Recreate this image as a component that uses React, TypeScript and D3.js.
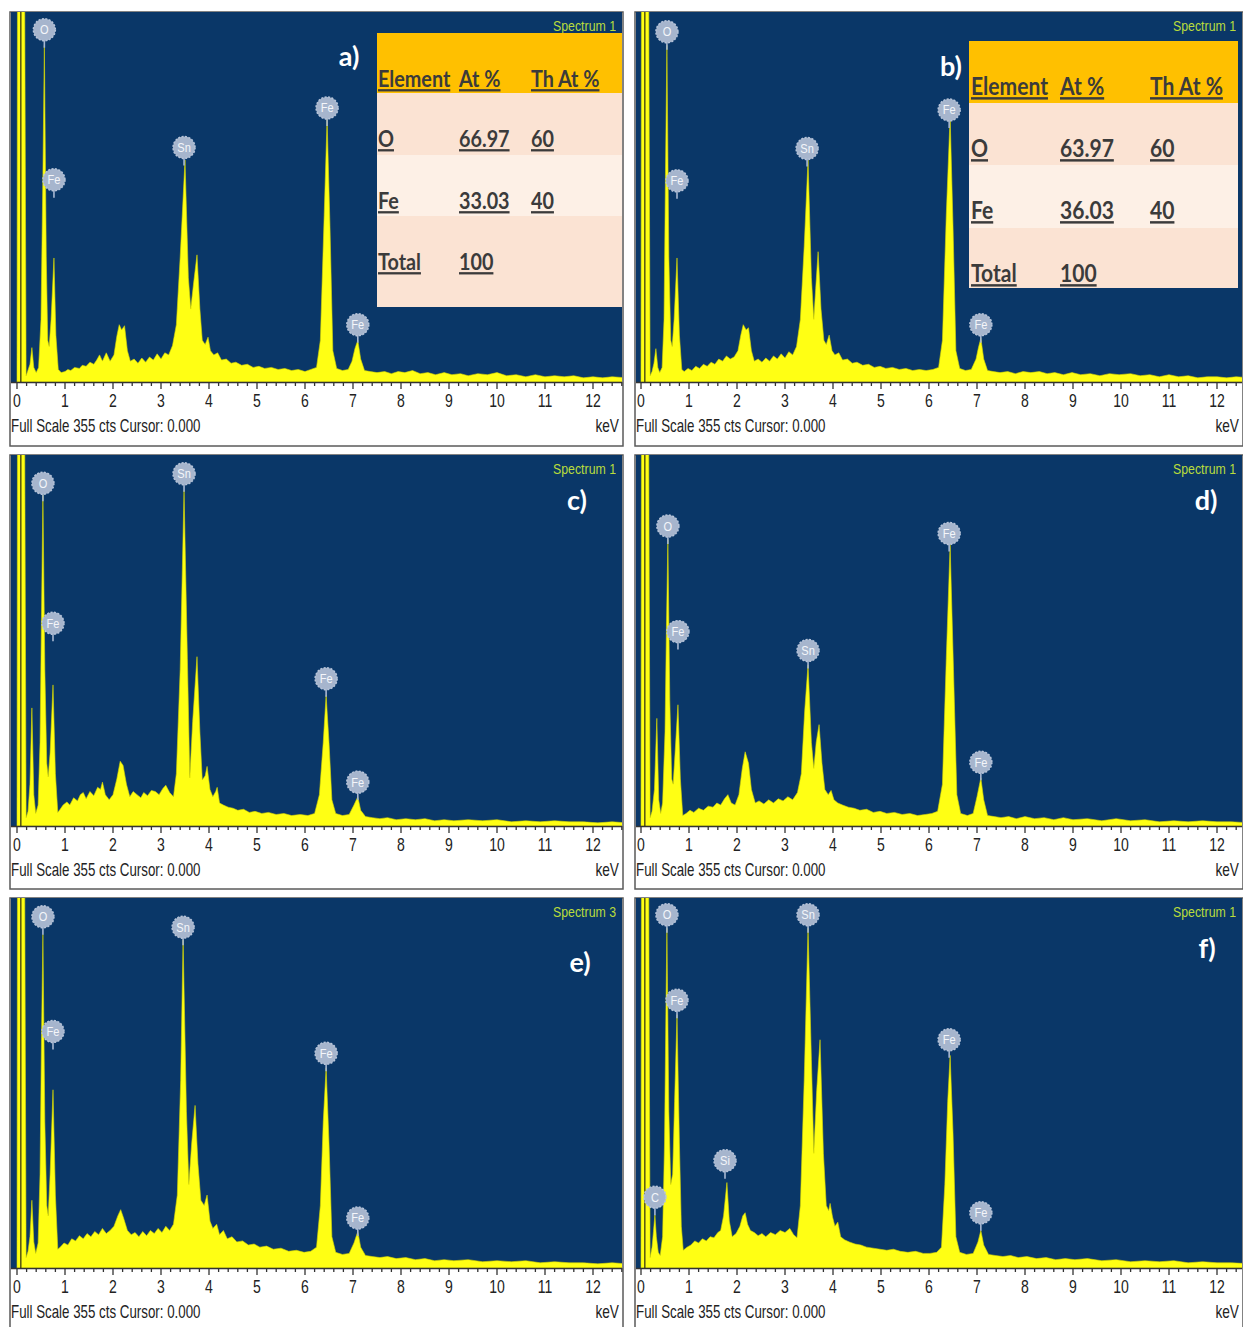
import React from 'react';
import * as d3 from 'd3';

type Pt = [number, number];
type PeakLabel = { el: string; kev: number; counts: number };

const FULL_SCALE = 355; // counts at top of every spectrum window
const MAJOR_TICKS = [0, 1, 2, 3, 4, 5, 6, 7, 8, 9, 10, 11, 12];
const PANEL_TAGS = ['a)', 'b)', 'c)', 'd)', 'e)', 'f)'];
const SPECTRUM_NAMES = ['Spectrum 1', 'Spectrum 1', 'Spectrum 1', 'Spectrum 1', 'Spectrum 3', 'Spectrum 1'];
const STATUS_TEXT = 'Full Scale 355 cts Cursor: 0.000';

// Spectra: [energy keV, counts]
const spectrumA: Pt[] = [
  [0, 0], [0.01, 380], [0.16, 380], [0.19, 6], [0.22, 10], [0.27, 17], [0.31, 33], [0.35, 14], [0.4, 9], [0.45, 14],
  [0.5, 60], [0.54, 200], [0.57, 323], [0.61, 120], [0.64, 40], [0.67, 34], [0.71, 60], [0.77, 119], [0.81, 45], [0.86, 12],
  [0.92, 9], [1.0, 10], [1.06, 12], [1.12, 11], [1.2, 14], [1.3, 13], [1.36, 16], [1.44, 15], [1.52, 19], [1.6, 17],
  [1.66, 21], [1.72, 26], [1.78, 20], [1.86, 28], [1.94, 20], [2.02, 26], [2.08, 44], [2.13, 55], [2.18, 50], [2.24, 54],
  [2.3, 30], [2.36, 20], [2.44, 22], [2.52, 18], [2.6, 23], [2.68, 19], [2.76, 24], [2.84, 21], [2.92, 27], [3.0, 22],
  [3.08, 28], [3.16, 26], [3.24, 35], [3.32, 55], [3.4, 120], [3.5, 213], [3.57, 100], [3.62, 70], [3.68, 95], [3.75, 122],
  [3.81, 70], [3.86, 40], [3.92, 36], [3.98, 43], [4.03, 30], [4.1, 26], [4.18, 28], [4.26, 21], [4.36, 22], [4.46, 18],
  [4.56, 19], [4.68, 16], [4.8, 17], [4.92, 14], [5.04, 15], [5.16, 13], [5.3, 14], [5.44, 12], [5.58, 13], [5.72, 11],
  [5.86, 12], [6.0, 10], [6.12, 12], [6.24, 14], [6.32, 40], [6.4, 160], [6.46, 252], [6.52, 150], [6.58, 30], [6.66, 13],
  [6.78, 11], [6.9, 12], [6.98, 20], [7.04, 32], [7.1, 40], [7.16, 22], [7.24, 11], [7.36, 10], [7.5, 9], [7.66, 10],
  [7.8, 8], [7.94, 10], [8.08, 9], [8.24, 11], [8.4, 8], [8.56, 9], [8.72, 7], [8.9, 9], [9.06, 7], [9.24, 8],
  [9.4, 6], [9.6, 8], [9.8, 7], [10.0, 9], [10.2, 6], [10.4, 7], [10.6, 5], [10.8, 7], [11.0, 5], [11.2, 6],
  [11.4, 5], [11.6, 6], [11.8, 4], [12.0, 5], [12.2, 4], [12.4, 5], [12.7, 4],
];

const spectrumB: Pt[] = [
  [0, 0], [0.01, 380], [0.16, 380], [0.19, 6], [0.23, 10], [0.27, 18], [0.31, 32], [0.35, 14], [0.39, 9], [0.44, 14],
  [0.48, 60], [0.51, 200], [0.54, 323], [0.58, 120], [0.62, 40], [0.65, 34], [0.69, 60], [0.75, 119], [0.8, 45], [0.85, 12],
  [0.9, 10], [0.98, 13], [1.06, 11], [1.14, 15], [1.22, 13], [1.3, 17], [1.38, 15], [1.46, 19], [1.54, 17], [1.62, 22],
  [1.7, 20], [1.78, 25], [1.86, 22], [1.94, 24], [2.02, 30], [2.08, 45], [2.13, 55], [2.19, 50], [2.24, 52], [2.3, 30],
  [2.36, 20], [2.44, 22], [2.52, 19], [2.6, 23], [2.68, 20], [2.76, 25], [2.84, 22], [2.92, 27], [3.0, 23], [3.08, 29],
  [3.16, 26], [3.24, 34], [3.32, 60], [3.4, 130], [3.48, 213], [3.55, 100], [3.6, 60], [3.64, 90], [3.69, 125], [3.75, 70],
  [3.81, 40], [3.86, 36], [3.92, 45], [3.98, 30], [4.04, 26], [4.12, 28], [4.2, 21], [4.3, 22], [4.4, 18], [4.5, 19],
  [4.62, 16], [4.74, 17], [4.86, 14], [4.98, 15], [5.1, 13], [5.24, 14], [5.38, 12], [5.52, 13], [5.66, 11], [5.8, 12],
  [5.94, 11], [6.08, 12], [6.2, 14], [6.28, 40], [6.36, 160], [6.44, 255], [6.5, 150], [6.56, 30], [6.64, 13], [6.76, 11],
  [6.88, 12], [6.98, 22], [7.03, 33], [7.08, 42], [7.14, 22], [7.22, 11], [7.34, 10], [7.48, 9], [7.64, 10], [7.8, 8],
  [7.96, 10], [8.12, 9], [8.3, 10], [8.46, 8], [8.62, 9], [8.8, 7], [8.98, 9], [9.16, 7], [9.36, 8], [9.56, 6],
  [9.76, 8], [9.96, 7], [10.2, 8], [10.4, 6], [10.6, 7], [10.8, 5], [11.0, 7], [11.2, 5], [11.4, 6], [11.6, 4],
  [11.8, 5], [12.0, 5], [12.2, 4], [12.4, 5], [12.7, 4],
];

const spectrumC: Pt[] = [
  [0, 0], [0.01, 380], [0.16, 380], [0.19, 8], [0.23, 14], [0.27, 40], [0.31, 113], [0.35, 30], [0.39, 12], [0.44, 20],
  [0.48, 80], [0.51, 200], [0.54, 317], [0.58, 150], [0.62, 60], [0.65, 47], [0.69, 70], [0.75, 135], [0.8, 50], [0.85, 13],
  [0.9, 16], [0.96, 20], [1.04, 23], [1.1, 20], [1.18, 27], [1.26, 24], [1.32, 30], [1.38, 32], [1.44, 26], [1.52, 33],
  [1.6, 29], [1.68, 37], [1.74, 35], [1.78, 42], [1.84, 30], [1.92, 25], [2.0, 30], [2.08, 45], [2.15, 62], [2.21, 58],
  [2.28, 40], [2.35, 28], [2.42, 33], [2.5, 30], [2.58, 27], [2.64, 32], [2.72, 29], [2.8, 34], [2.88, 33], [2.96, 30],
  [3.04, 36], [3.1, 39], [3.18, 32], [3.26, 28], [3.32, 50], [3.4, 150], [3.48, 321], [3.55, 160], [3.6, 46], [3.66, 100],
  [3.75, 162], [3.81, 90], [3.86, 44], [3.92, 48], [3.96, 57], [4.02, 35], [4.08, 28], [4.14, 33], [4.17, 37], [4.22, 22],
  [4.3, 20], [4.4, 18], [4.5, 17], [4.6, 15], [4.72, 16], [4.84, 13], [4.96, 14], [5.1, 12], [5.24, 13], [5.4, 11],
  [5.56, 12], [5.72, 10], [5.9, 11], [6.06, 10], [6.2, 12], [6.3, 30], [6.38, 80], [6.44, 125], [6.5, 80], [6.56, 25],
  [6.64, 12], [6.78, 10], [6.92, 11], [7.02, 20], [7.1, 28], [7.16, 15], [7.26, 9], [7.4, 8], [7.56, 7], [7.72, 8],
  [7.9, 6], [8.1, 7], [8.3, 6], [8.5, 7], [8.7, 5], [8.9, 6], [9.1, 5], [9.4, 6], [9.7, 5], [10.0, 6],
  [10.3, 4], [10.6, 5], [10.9, 4], [11.2, 5], [11.5, 4], [11.8, 4], [12.1, 3], [12.4, 4], [12.7, 3],
];

const spectrumD: Pt[] = [
  [0, 0], [0.01, 380], [0.16, 380], [0.19, 8], [0.23, 14], [0.28, 35], [0.33, 103], [0.37, 25], [0.41, 12], [0.45, 22],
  [0.5, 90], [0.53, 190], [0.56, 274], [0.6, 120], [0.64, 45], [0.67, 40], [0.71, 70], [0.77, 116], [0.82, 45], [0.87, 10],
  [0.94, 12], [1.02, 15], [1.1, 13], [1.2, 17], [1.3, 15], [1.4, 19], [1.5, 18], [1.58, 22], [1.66, 20], [1.74, 26],
  [1.81, 30], [1.88, 22], [1.96, 20], [2.04, 30], [2.11, 55], [2.17, 71], [2.24, 60], [2.3, 35], [2.38, 22], [2.46, 24],
  [2.56, 21], [2.66, 25], [2.76, 22], [2.86, 26], [2.96, 24], [3.06, 28], [3.16, 25], [3.26, 32], [3.34, 50], [3.41, 110],
  [3.48, 154], [3.55, 80], [3.6, 55], [3.65, 80], [3.71, 97], [3.77, 60], [3.83, 35], [3.9, 30], [3.96, 34], [4.02, 25],
  [4.1, 22], [4.2, 20], [4.32, 18], [4.44, 17], [4.56, 15], [4.7, 16], [4.84, 13], [4.98, 14], [5.12, 12], [5.28, 13],
  [5.44, 11], [5.6, 12], [5.76, 10], [5.92, 11], [6.06, 12], [6.18, 14], [6.28, 40], [6.36, 160], [6.44, 269], [6.51, 150],
  [6.58, 30], [6.66, 12], [6.8, 10], [6.92, 12], [7.0, 28], [7.08, 46], [7.14, 25], [7.22, 10], [7.36, 9], [7.5, 8],
  [7.66, 9], [7.82, 7], [8.0, 9], [8.2, 7], [8.4, 8], [8.6, 6], [8.8, 8], [9.0, 6], [9.3, 7], [9.6, 5],
  [9.9, 7], [10.2, 5], [10.5, 6], [10.8, 4], [11.1, 5], [11.4, 4], [11.7, 5], [12.0, 4], [12.3, 4], [12.7, 3],
];

const spectrumE: Pt[] = [
  [0, 0], [0.01, 380], [0.16, 380], [0.19, 10], [0.23, 16], [0.27, 30], [0.31, 65], [0.35, 25], [0.39, 14], [0.44, 24],
  [0.48, 90], [0.51, 220], [0.54, 320], [0.58, 140], [0.62, 60], [0.65, 50], [0.69, 90], [0.75, 171], [0.8, 70], [0.85, 18],
  [0.9, 20], [0.98, 24], [1.06, 22], [1.14, 28], [1.22, 26], [1.3, 31], [1.38, 28], [1.46, 33], [1.54, 30], [1.62, 35],
  [1.7, 32], [1.78, 38], [1.86, 33], [1.94, 36], [2.02, 40], [2.1, 50], [2.16, 56], [2.22, 48], [2.3, 36], [2.38, 32],
  [2.46, 34], [2.54, 30], [2.62, 35], [2.7, 31], [2.78, 36], [2.86, 33], [2.94, 38], [3.02, 34], [3.1, 40], [3.18, 36],
  [3.26, 42], [3.34, 70], [3.41, 180], [3.46, 315], [3.53, 150], [3.58, 80], [3.64, 120], [3.71, 156], [3.77, 100], [3.83, 65],
  [3.9, 60], [3.96, 70], [4.02, 45], [4.08, 38], [4.16, 42], [4.22, 32], [4.3, 36], [4.38, 28], [4.48, 30], [4.58, 25],
  [4.7, 26], [4.82, 22], [4.94, 23], [5.06, 20], [5.2, 21], [5.34, 18], [5.5, 19], [5.66, 16], [5.82, 17], [5.98, 15],
  [6.12, 16], [6.24, 20], [6.32, 60], [6.38, 140], [6.44, 192], [6.5, 120], [6.56, 30], [6.64, 15], [6.78, 13], [6.92, 14],
  [7.02, 24], [7.1, 35], [7.16, 20], [7.26, 12], [7.4, 11], [7.56, 10], [7.72, 11], [7.9, 9], [8.1, 10], [8.3, 8],
  [8.5, 9], [8.7, 7], [8.9, 8], [9.1, 7], [9.4, 8], [9.7, 6], [10.0, 7], [10.3, 6], [10.6, 7], [10.9, 5],
  [11.2, 6], [11.5, 5], [11.8, 5], [12.1, 4], [12.4, 5], [12.7, 4],
];

const spectrumF: Pt[] = [
  [0, 0], [0.01, 380], [0.16, 380], [0.19, 10], [0.23, 20], [0.26, 35], [0.29, 51], [0.32, 30], [0.36, 15], [0.4, 12],
  [0.45, 30], [0.49, 120], [0.52, 250], [0.54, 326], [0.58, 150], [0.62, 80], [0.66, 90], [0.7, 160], [0.75, 243], [0.8, 120],
  [0.84, 40], [0.88, 17], [0.96, 20], [1.04, 22], [1.12, 26], [1.2, 24], [1.28, 28], [1.36, 26], [1.44, 30], [1.52, 29],
  [1.6, 34], [1.66, 36], [1.72, 50], [1.79, 82], [1.84, 45], [1.9, 30], [1.98, 33], [2.06, 40], [2.12, 50], [2.17, 53],
  [2.22, 42], [2.28, 36], [2.36, 34], [2.44, 31], [2.52, 33], [2.6, 30], [2.7, 34], [2.8, 32], [2.9, 36], [3.0, 34],
  [3.1, 38], [3.18, 32], [3.25, 29], [3.32, 60], [3.4, 180], [3.48, 326], [3.55, 200], [3.6, 110], [3.66, 170], [3.73, 219],
  [3.8, 110], [3.86, 60], [3.91, 55], [3.94, 62], [3.99, 49], [4.04, 40], [4.1, 44], [4.16, 30], [4.24, 27], [4.34, 25],
  [4.46, 23], [4.58, 22], [4.7, 20], [4.84, 19], [4.98, 18], [5.12, 17], [5.26, 18], [5.4, 16], [5.56, 15], [5.72, 16],
  [5.88, 14], [6.02, 14], [6.16, 15], [6.26, 20], [6.33, 80], [6.39, 160], [6.44, 204], [6.5, 130], [6.56, 30], [6.64, 15],
  [6.78, 13], [6.92, 14], [7.02, 25], [7.08, 36], [7.14, 22], [7.24, 13], [7.38, 12], [7.54, 11], [7.7, 12], [7.86, 10],
  [8.04, 11], [8.24, 9], [8.44, 10], [8.64, 8], [8.84, 9], [9.04, 8], [9.3, 9], [9.6, 7], [9.9, 8], [10.2, 6],
  [10.5, 7], [10.8, 6], [11.1, 7], [11.4, 5], [11.7, 6], [12.0, 5], [12.3, 5], [12.7, 4],
];

// Element markers: energy and the height (counts) at which the badge sits
const labelsA: PeakLabel[] = [
  { el: 'O', kev: 0.57, counts: 338 }, { el: 'Fe', kev: 0.77, counts: 194 }, { el: 'Sn', kev: 3.48, counts: 225 },
  { el: 'Fe', kev: 6.46, counts: 263 }, { el: 'Fe', kev: 7.1, counts: 55 },
];
const labelsB: PeakLabel[] = [
  { el: 'O', kev: 0.54, counts: 336 }, { el: 'Fe', kev: 0.75, counts: 193 }, { el: 'Sn', kev: 3.46, counts: 224 },
  { el: 'Fe', kev: 6.42, counts: 261 }, { el: 'Fe', kev: 7.08, counts: 55 },
];
const labelsC: PeakLabel[] = [
  { el: 'O', kev: 0.54, counts: 328 }, { el: 'Fe', kev: 0.75, counts: 194 }, { el: 'Sn', kev: 3.48, counts: 337 },
  { el: 'Fe', kev: 6.44, counts: 141 }, { el: 'Fe', kev: 7.1, counts: 42 },
];
const labelsD: PeakLabel[] = [
  { el: 'O', kev: 0.56, counts: 287 }, { el: 'Fe', kev: 0.77, counts: 186 }, { el: 'Sn', kev: 3.48, counts: 168 },
  { el: 'Fe', kev: 6.42, counts: 280 }, { el: 'Fe', kev: 7.08, counts: 61 },
];
const labelsE: PeakLabel[] = [
  { el: 'O', kev: 0.54, counts: 337 }, { el: 'Fe', kev: 0.75, counts: 227 }, { el: 'Sn', kev: 3.46, counts: 327 },
  { el: 'Fe', kev: 6.44, counts: 206 }, { el: 'Fe', kev: 7.1, counts: 48 },
];
const labelsF: PeakLabel[] = [
  { el: 'O', kev: 0.54, counts: 339 }, { el: 'Fe', kev: 0.75, counts: 257 }, { el: 'C', kev: 0.29, counts: 68 },
  { el: 'Si', kev: 1.75, counts: 103 }, { el: 'Sn', kev: 3.48, counts: 339 }, { el: 'Fe', kev: 6.42, counts: 219 },
  { el: 'Fe', kev: 7.08, counts: 53 },
];

// Quantification tables
const TABLE_HEADERS = ['Element', 'At %', 'Th At %'];
const tableRowsA = [['O', '66.97', '60'], ['Fe', '33.03', '40'], ['Total', '100', '']];
const tableRowsB = [['O', '63.97', '60'], ['Fe', '36.03', '40'], ['Total', '100', '']];

const SPECTRA = [spectrumA, spectrumB, spectrumC, spectrumD, spectrumE, spectrumF];
const LABELS = [labelsA, labelsB, labelsC, labelsD, labelsE, labelsF];

// ---- layout ----
const COLS = [
  { x: 10, w: 613, zero: 17 },
  { x: 635, w: 608, zero: 641 },
];
const ROWS = [
  { y: 12, plotH: 370 },
  { y: 455, plotH: 371 },
  { y: 898, plotH: 370 },
];
const PANEL_H = 434;
const PX_PER_KEV = 48;
const TAG_POS = [
  { x: 349, y: 66 }, { x: 951, y: 76 }, { x: 577, y: 510 },
  { x: 1206, y: 510 }, { x: 580, y: 972 }, { x: 1207, y: 958 },
];
const TABLES = [
  { panel: 0, rows: tableRowsA, x: 377, y: 33, w: 245, h: [60, 62, 61, 91], cols: [1, 82, 154], size: 23 },
  { panel: 1, rows: tableRowsB, x: 969, y: 41, w: 269, h: [62, 62, 63, 60], cols: [2, 91, 181], size: 24.5 },
];

const BLUE = '#0a3768';
const YELLOW = '#ffff14';
const SANS = "'Liberation Sans', Arial, sans-serif";

// Condensed instrument-style text (horizontal squeeze of a regular sans face)
function NarrowText({
  x, y, size, squeeze, anchor = 'start', fill = '#222', children,
}: {
  x: number; y: number; size: number; squeeze: number; anchor?: 'start' | 'middle' | 'end'; fill?: string; children: React.ReactNode;
}) {
  return (
    <text
      transform={`translate(${x},${y}) scale(${squeeze},1)`}
      textAnchor={anchor}
      fontFamily={SANS}
      fontSize={size}
      fill={fill}
    >
      {children}
    </text>
  );
}

function Table({ cfg }: { cfg: typeof TABLES[number] }) {
  const fills = ['#ffc000', '#fbe3d3', '#fdf0e6', '#fbe3d3'];
  const lines = [TABLE_HEADERS, ...cfg.rows];
  let top = cfg.y;
  return (
    <g>
      {lines.map((line, i) => {
        const rowTop = top;
        top += cfg.h[i];
        return (
          <g key={i}>
            <rect x={cfg.x} y={rowTop} width={cfg.w} height={cfg.h[i]} fill={fills[i]} />
            {line.map((t, j) =>
              t ? (
                <text
                  key={j}
                  transform={`translate(${cfg.x + cfg.cols[j]},${rowTop + 54}) scale(0.86,1)`}
                  fontFamily="Lato, 'Open Sans', sans-serif"
                  fontWeight={700}
                  fontSize={cfg.size}
                  fill="#3b3b3b"
                  textDecoration="underline"
                >
                  {t}
                </text>
              ) : null
            )}
          </g>
        );
      })}
    </g>
  );
}

function Panel({ idx }: { idx: number }) {
  const col = COLS[idx % 2];
  const row = ROWS[Math.floor(idx / 2)];
  const left = col.x;
  const right = col.x + col.w;
  const top = row.y;
  const plotBottom = row.y + row.plotH;
  const x = d3.scaleLinear().domain([0, 12]).range([col.zero, col.zero + 12 * PX_PER_KEV]);
  const y = d3.scaleLinear().domain([0, FULL_SCALE]).range([plotBottom, top]);
  const area = d3
    .area<Pt>()
    .x((d) => x(d[0]))
    .y0(plotBottom)
    .y1((d) => y(d[1]));
  const clipId = `plot-clip-${idx}`;
  const maxKev = x.invert(right - 1);
  const ticks = d3.range(0, Math.floor(maxKev * 5 + 1e-6) + 1).map((i) => i / 5);
  const tag = TAG_POS[idx];

  return (
    <g>
      <rect x={left} y={top} width={col.w} height={PANEL_H} fill="#fff" stroke="#5a5a5a" strokeWidth={1.5} />
      <clipPath id={clipId}>
        <rect x={left + 1} y={top} width={col.w - 2} height={row.plotH} />
      </clipPath>
      <rect x={left + 1} y={top} width={col.w - 2} height={row.plotH} fill={BLUE} />
      <g clipPath={`url(#${clipId})`}>
        <path d={area(SPECTRA[idx]) || ''} fill={YELLOW} stroke="#d8d800" strokeWidth={0.6} />
        <line x1={x(0.08)} x2={x(0.08)} y1={top} y2={plotBottom} stroke="#2b2b10" strokeWidth={1.2} />
        {LABELS[idx].map((lb, i) => {
          const cx = x(lb.kev);
          const cy = y(lb.counts);
          return (
            <g key={i}>
              <line x1={cx} x2={cx} y1={cy + 10} y2={cy + 18} stroke="#a8b8d2" strokeWidth={1.6} />
              <circle cx={cx} cy={cy} r={11} fill="#a6b5cd" stroke="#b7c4d9" strokeWidth={1.5} strokeDasharray="2 1.5" />
              <NarrowText x={cx} y={cy + 4.5} size={13} squeeze={0.85} anchor="middle" fill="#f4f6fa">
                {lb.el}
              </NarrowText>
            </g>
          );
        })}
      </g>
      <NarrowText x={right - 7} y={top + 19} size={14} squeeze={0.88} anchor="end" fill="#b9dc3c">
        {SPECTRUM_NAMES[idx]}
      </NarrowText>
      <text x={tag.x} y={tag.y} textAnchor="middle" fontFamily="Lato, 'Open Sans', sans-serif" fontWeight={700} fontSize={27} fill="#ffffff">
        {PANEL_TAGS[idx]}
      </text>

      {/* energy axis */}
      <line x1={left + 1} x2={right - 1} y1={plotBottom + 0.5} y2={plotBottom + 0.5} stroke="#333" strokeWidth={1.5} />
      {ticks.map((t, i) => {
        const major = Math.abs(t - Math.round(t)) < 1e-6;
        return (
          <line key={i} x1={x(t)} x2={x(t)} y1={plotBottom} y2={plotBottom + (major ? 7 : 4)} stroke="#333" strokeWidth={1.3} />
        );
      })}
      {MAJOR_TICKS.map((t) => (
        <NarrowText key={t} x={x(t)} y={plotBottom + 25} size={18} squeeze={0.78} anchor="middle">
          {String(t)}
        </NarrowText>
      ))}
      <NarrowText x={left + 1} y={plotBottom + 50} size={18} squeeze={0.74}>
        {STATUS_TEXT}
      </NarrowText>
      <NarrowText x={right - 4} y={plotBottom + 50} size={18} squeeze={0.76} anchor="end">
        keV
      </NarrowText>
    </g>
  );
}

export default function App() {
  return (
    <svg
      width={1243}
      height={1327}
      style={{ position: 'absolute', left: 0, top: 0, display: 'block', background: '#fff' }}
    >
      {[0, 1, 2, 3, 4, 5].map((i) => (
        <Panel key={i} idx={i} />
      ))}
      {TABLES.map((t, i) => (
        <Table key={i} cfg={t} />
      ))}
    </svg>
  );
}
